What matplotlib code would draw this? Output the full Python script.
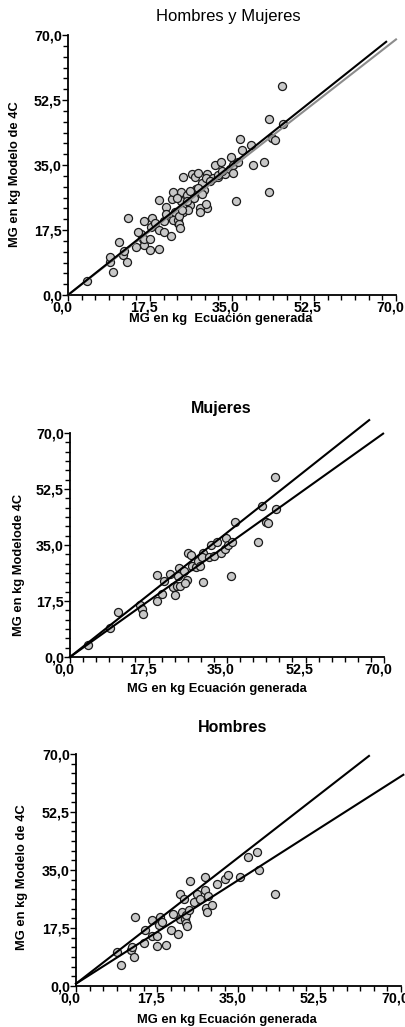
import numpy as np
import matplotlib
matplotlib.use("Agg")
import matplotlib.pyplot as plt
import matplotlib.transforms as mtransforms
from matplotlib.ticker import MultipleLocator, FuncFormatter

plt.rcParams['font.family'] = ['Liberation Sans', 'DejaVu Sans']

# Mujeres: MG ecuacion generada (x) vs MG modelo 4C (y), kg
women_x = [4.1, 8.9, 10.8, 15.6, 16.0, 16.3, 19.4, 19.5, 20.5, 20.9, 22.3, 23.0,
           23.4, 23.8, 24.2, 24.1, 24.6, 25.5, 26.0, 25.6, 26.4, 27.0, 27.3, 28.1,
           28.5, 29.0, 29.6, 29.6, 29.4, 30.9, 31.4, 32.0, 32.7, 33.6, 34.6, 34.8,
           35.3, 36.2, 35.8, 36.8, 41.8, 43.6, 44.2, 42.9, 45.9, 45.7]
women_y = [3.8, 9.0, 14.2, 16.3, 15.0, 13.4, 25.6, 17.6, 19.8, 23.6, 25.9, 22.0,
           19.5, 22.2, 27.7, 25.3, 22.3, 26.9, 24.1, 23.0, 32.5, 31.9, 28.5, 28.2,
           30.1, 28.4, 23.3, 32.6, 31.4, 31.4, 35.1, 31.7, 35.8, 32.6, 33.8, 37.1,
           35.0, 35.9, 25.4, 42.1, 35.9, 42.2, 41.8, 47.3, 46.1, 56.2]

# Hombres
men_x = [8.9, 9.7, 11.8, 12.0, 12.5, 12.8, 14.6, 14.9, 16.3, 16.3, 17.4, 17.4,
         17.8, 18.0, 18.6, 19.4, 20.5, 20.9, 22.0, 22.4, 22.8, 22.4, 23.2, 23.5,
         23.6, 23.9, 23.7, 24.3, 24.5, 25.5, 26.0, 26.8, 27.8, 27.8, 28.5, 28.1,
         28.2, 29.4, 30.4, 32.1, 32.8, 35.3, 37.1, 39.0, 39.4, 42.8]
men_y = [10.3, 6.3, 10.8, 11.8, 8.8, 20.7, 13.0, 17.0, 15.0, 20.0, 15.0, 12.1,
         18.4, 20.7, 19.3, 12.3, 17.0, 21.7, 15.8, 20.1, 22.3, 27.7, 26.1, 20.3,
         19.0, 18.1, 21.4, 22.9, 31.7, 25.4, 27.9, 26.1, 28.9, 32.9, 27.1, 23.4,
         22.4, 24.4, 30.7, 32.4, 33.4, 32.9, 39.0, 40.3, 35.0, 27.7]

# lineas de cada panel: (pendiente, ordenada, x final, color)
lines_all = [(0.983, 0.0, 70.0, '#8c8c8c'), (1.004, 0.0, 67.9, 'black')]
lines_women = [(1.0, 0.0, 69.8, 'black'), (1.11, 0.0, 66.7, 'black')]
lines_men = [(0.894, 0.7, 70.5, 'black'), (1.089, 0.7, 63.1, 'black')]

major_ticks = [0, 17.5, 35, 52.5, 70]

W, H = 406, 1027
fig = plt.figure(figsize=(W / 100, H / 100), dpi=100)
# las etiquetas del eje x van algo corridas a la izquierda en el original
shift = mtransforms.ScaledTranslation(-6 / 100, 0, fig.dpi_scale_trans)


def px_axes(x0, y0, x1, y1):
    return fig.add_axes([x0 / W, 1 - y1 / H, (x1 - x0) / W, (y1 - y0) / H])


def comma(v, pos):
    return f"{v:.1f}".replace('.', ',')


def style(ax):
    ax.set_xlim(0, 70)
    ax.set_ylim(0, 70)
    for s in ['top', 'right']:
        ax.spines[s].set_visible(False)
    for s in ['left', 'bottom']:
        ax.spines[s].set_linewidth(1.3)
    ax.set_xticks(major_ticks)
    ax.set_yticks(major_ticks)
    ax.xaxis.set_minor_locator(MultipleLocator(70 / 24))
    ax.yaxis.set_minor_locator(MultipleLocator(70 / 24))
    ax.xaxis.set_major_formatter(FuncFormatter(comma))
    ax.yaxis.set_major_formatter(FuncFormatter(comma))
    ax.tick_params(which='both', direction='out', width=1.0, color='black')
    ax.tick_params(which='major', length=4, labelsize=10.3, pad=0.3)
    ax.tick_params(which='minor', length=3.5)
    for lab in ax.get_xticklabels() + ax.get_yticklabels():
        lab.set_fontweight('bold')
    for lab in ax.get_xticklabels():
        lab.set_transform(lab.get_transform() + shift)


def draw(ax, xs, ys, fits):
    ax.plot(xs, ys, 'o', ms=5.8, mfc='#c8c8c8', mec='#1a1a1a', mew=0.9,
            zorder=2, clip_on=False)
    for m, b, xe, c in fits:
        xx = np.array([0, xe])
        ax.plot(xx, m * xx + b, color=c, lw=1.5, zorder=3, clip_on=False)


all_x = women_x + men_x
all_y = women_y + men_y

ax1 = px_axes(68, 35, 396, 295)
style(ax1)
draw(ax1, all_x, all_y, lines_all)

ax2 = px_axes(70, 433, 384, 657)
style(ax2)
draw(ax2, women_x, women_y, lines_women)

ax3 = px_axes(76, 754, 401, 986)
style(ax3)
draw(ax3, men_x, men_y, lines_men)

# titulos y rotulos
fig.text(228 / W, 1 - 17 / H, 'Hombres y Mujeres', ha='center', va='center', fontsize=12)
fig.text(221 / W, 1 - 408 / H, 'Mujeres', ha='center', va='center', fontsize=11.5, fontweight='bold')
fig.text(233 / W, 1 - 727 / H, 'Hombres', ha='center', va='center', fontsize=11.5, fontweight='bold')

lab = dict(ha='center', va='center', fontsize=9.3, fontweight='bold')
fig.text(221 / W, 1 - 319 / H, 'MG en kg  Ecuación generada', **lab)
fig.text(217 / W, 1 - 689 / H, 'MG en kg Ecuación generada', **lab)
fig.text(227 / W, 1 - 1020 / H, 'MG en kg Ecuación generada', **lab)

fig.text(15 / W, 1 - 174 / H, 'MG en kg Modelo de 4C', rotation=90, **lab)
fig.text(19 / W, 1 - 565 / H, 'MG en kg Modelode 4C', rotation=90, **lab)
fig.text(22 / W, 1 - 877 / H, 'MG en kg Modelo de 4C', rotation=90, **lab)

fig.savefig('out.png', dpi=100, facecolor='white')
